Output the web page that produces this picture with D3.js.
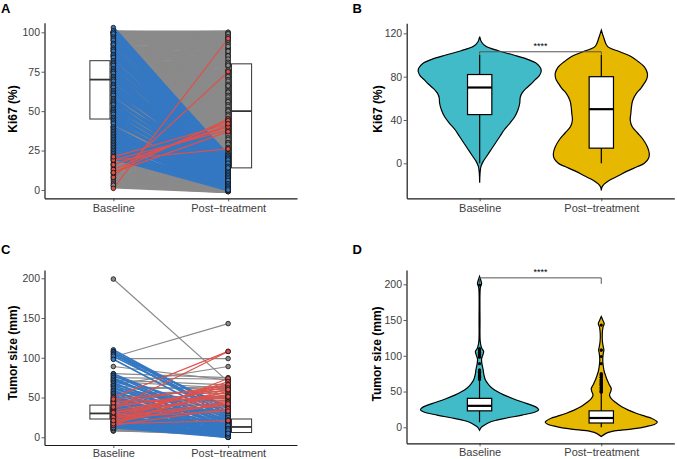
<!DOCTYPE html>
<html>
<head>
<meta charset="utf-8">
<script src="https://cdn.jsdelivr.net/npm/d3@7"></script>
<style>
  body { margin: 0; background: #fff; }
  svg { display: block; font-family: "Liberation Sans", Arial, Helvetica, sans-serif; }
</style>
</head>
<body>
<svg id="chart" width="677" height="459"></svg>
<script>
var groups = ['Baseline', 'Post\u2212treatment'];

// Ki67 (%) per patient, [baseline, post-treatment]
var ki67Stable = [
  [100,100],[99,100],[100,99],[98,98],[97,99],[100,97],[96,96],[95,97],[99,95],[94,94],
  [98,93],[93,92],[92,95],[91,90],[100,90],[90,89],[89,91],[95,88],[88,87],[87,86],
  [86,88],[90,85],[85,84],[84,82],[83,85],[98,83],[82,80],[81,81],[80,79],[92,80],
  [79,78],[78,76],[77,79],[76,75],[100,76],[75,74],[74,72],[73,73],[72,71],[88,72],
  [71,70],[70,68],[69,69],[68,67],[67,65],[85,66],[66,64],[65,66],[64,63],[63,61],
  [62,62],[80,62],[61,60],[60,58],[59,59],[58,57],[57,55],[56,56],[75,56],[55,54],
  [54,52],[53,53],[52,51],[51,49],[50,50],[70,50],[49,48],[48,46],[47,47],[46,45],
  [45,43],[44,44],[65,44],[43,42],[42,40],[41,41],[40,39],[39,37],[38,38],[37,36],
  [60,36],[36,34],[35,35],[34,33],[33,31],[32,32],[31,30],[30,28],[55,30],[29,29],
  [28,27],[27,25],[26,26],[50,26],[25,24],[24,23],[45,23],[23,22],[40,21],
  [22,2],[21,1],[20,2],[19,1],[18,0],[17,2],[16,1],[15,0],[14,1],[13,0],
  [12,2],[11,1],[10,0],[9,1],[8,-1],[7,0],[6,1],[5,-1],[4,0],[3,-1],[2,-1],[3,0]
];
var ki67Decrease = [
  [103,21],[101,22],[100,20],[99,19],[97,22],[96,18],[95,21],[93,17],[92,20],[90,16],
  [89,19],[88,15],[86,18],[85,14],[84,20],[82,13],[81,17],[80,12],[79,16],[77,11],
  [76,15],[75,19],[74,10],[72,14],[71,12],[70,9],[69,17],[67,13],[66,8],[65,11],
  [63,15],[62,7],[61,10],[60,12],[58,6],[57,9],[56,14],[55,5],[54,8],[52,11],
  [51,4],[50,7],[49,10],[48,3],[46,6],[45,9],[44,2],[43,5],[42,8],[40,1],
  [39,4],[38,7],[37,2],[36,5],[35,0],[34,3],[33,6],[32,1],[31,4],[30,0],
  [29,2],[28,3],[27,0],[26,1],[25,2],[24,0],[23,1],[22,0],[21,1],[20,0]
];
var ki67Increase = [
  [1,96],[8,75],[11,45],[16,41],[19,38],[13,44],[19,26],[16,40],[21,42],[11,37]
];

// Tumor size (mm) per patient, [baseline, post-treatment]
var tumorStable = [
  [199,70],[101,143],[99,99],[89,72],[66,89],[75,73],[72,66],[70,62],[64,60],[60,64],
  [57,55],[53,50],[50,52],[47,45],[44,47],[41,40],[38,42],[36,33],[33,35],[31,29],
  [29,31],[27,25],[25,27],[23,21],[21,23],[19,18],[17,19],[15,14],[14,12],[13,15],
  [12,10],[11,8],[10,11],[9,6],[8,9],[8,4],[10,5],[12,3],[9,2],[11,7],
  [13,9],[80,75],[55,58],[45,50],[35,38]
];
var tumorDecrease = [
  [110,32],[108,28],[107,36],[105,25],[104,38],[102,30],[98,22],
  [80,20],[78,15],[77,28],[75,12],[73,18],[71,25],[69,10],[67,22],[65,14],[63,8],
  [61,20],[59,5],[57,16],[55,11],[53,3],[51,7],[49,13],[47,2],[45,9],[43,0],
  [42,6],[40,12],[38,4],[37,1],[35,8],[34,3],[32,10],[30,0],[29,5],[27,2],
  [26,7],[24,1],[23,4],[22,0],[20,3],[19,1],[18,6],[17,2],[16,0],[15,4],
  [14,1],[13,2],[12,0],[46,15],[39,11],[33,6],[28,9],[25,3],[21,5]
];
var tumorIncrease = [
  [36,108],[50,108],[18,74],[22,70],[26,67],[30,64],[16,61],[20,58],[34,56],[28,54],
  [41,52],[45,49],[32,47],[24,45],[43,66],[48,62],[19,44],[27,40],[15,36],[38,60],
  [17,21],[25,33],[31,51],[21,42]
];

// box stats per group: [q1, median, q3, whisker low, whisker high]
var ki67Box = [[45, 70, 82, 0, 100], [14, 50, 80, 0, 100]];
var tumorBox = [[23, 30, 40.5, 7, 66], [6, 13, 23, 0, 48]];

// violin outlines: [value, relative density]
var ki67ViolinBase = [
  [117,0],[112,0.03],[108,0.1],[104,0.3],[100,0.55],[96,0.78],[92,0.93],[88,0.99],[85,1],
  [81,0.97],[77,0.9],[73,0.83],[69,0.75],[65,0.69],[61,0.66],[55,0.65],[49,0.62],[43,0.57],
  [37,0.49],[31,0.4],[25,0.33],[19,0.26],[13,0.19],[7,0.12],[2,0.06],[-3,0.02],[-10,0.005],[-18,0]
];
var ki67ViolinPost = [
  [123,0],[116,0.04],[108,0.1],[103,0.3],[98.5,0.49],[94,0.6],[89,0.7],[83,0.75],[78,0.74],
  [74,0.7],[69,0.64],[64.6,0.57],[58,0.51],[52,0.49],[46,0.48],[40,0.47],[34,0.5],[28,0.59],
  [22,0.68],[15,0.75],[9,0.78],[5,0.77],[0,0.7],[-3,0.59],[-7,0.43],[-12,0.26],[-16,0.12],
  [-19,0.05],[-22,0.01],[-25,0]
];
var tumorViolinBase = [
  [211,0],[206,0.02],[201,0.035],[196,0.015],[188,0.008],[150,0.008],[120,0.012],[111,0.035],
  [106,0.07],[101,0.055],[96,0.035],[89,0.04],[81,0.06],[73,0.075],[66,0.1],[60,0.15],
  [55,0.21],[50,0.3],[45,0.42],[40,0.57],[35,0.74],[31,0.88],[27,0.98],[24,1],[21,0.93],
  [17,0.72],[13,0.46],[10,0.29],[7,0.17],[3,0.08],[0,0.03],[-4,0]
];
var tumorViolinPost = [
  [155,0],[150,0.025],[145,0.05],[140,0.03],[131,0.017],[120,0.02],[112,0.035],[108,0.045],
  [104,0.035],[94,0.025],[85,0.035],[78,0.05],[73,0.07],[66,0.1],[59,0.14],[54,0.17],
  [50,0.16],[45,0.14],[40,0.17],[35,0.24],[29,0.34],[24,0.46],[19.6,0.59],[15,0.76],
  [12.6,0.85],[9,0.93],[7,0.95],[4,0.9],[1,0.76],[-2,0.56],[-4,0.34],[-6,0.17],[-8.5,0.08],[-13,0]
];

var ki67Ticks = [0, 25, 50, 75, 100];
var ki67ViolinTicks = [0, 40, 80, 120];
var tumorTicks = [0, 50, 100, 150, 200];
var sigLabel = '****';

var lineColors = {stable: '#8a8a8a', down: '#3477c2', up: '#e0504a'};
var violinFills = ['#41bbc8', '#e6b800'];
var svg = d3.select('svg#chart');

function styleAxis(g, size) {
  g.select('.domain').attr('stroke', '#1a1a1a').attr('stroke-width', 1.2);
  g.selectAll('.tick line').attr('stroke', '#333').attr('stroke-width', 0.8);
  g.selectAll('.tick text').attr('fill', '#3d3d3d').attr('font-size', size)
    .attr('font-family', '"Liberation Sans", Arial, sans-serif');
}

function drawAxes(p, x, y) {
  var ya = svg.append('g').attr('transform', 'translate(' + p.left + ',0)')
    .call(d3.axisLeft(y).tickValues(p.ticks).tickSize(3).tickPadding(1.5).tickSizeOuter(0));
  styleAxis(ya, '10.5px');
  var xa = svg.append('g').attr('transform', 'translate(0,' + p.bottom + ')')
    .call(d3.axisBottom(x).tickSize(3).tickPadding(p.labelPad).tickSizeOuter(0));
  styleAxis(xa, '11px');

  svg.append('text')
    .attr('transform', 'translate(' + p.titleX + ',' + p.titleY + ') rotate(-90)')
    .attr('text-anchor', 'middle').attr('dy', '0.36em')
    .attr('font-size', '12px').attr('font-weight', 'bold').attr('fill', '#000')
    .text(p.title);
  svg.append('text')
    .attr('x', p.letterX).attr('y', p.letterY)
    .attr('font-size', '13px').attr('font-weight', 'bold').attr('fill', '#000')
    .text(p.letter);
}

function drawPaired(p) {
  var x = d3.scalePoint().domain(groups).range([p.left, p.right]).padding(0.6);
  var y = d3.scaleLinear().domain(p.domain).range([p.bottom, p.top]);
  var step = x.step();
  var g = svg.append('g');

  // side boxes, no whiskers
  p.box.forEach(function(b, i) {
    var side = i === 0 ? -1 : 1;
    var cx = x(groups[i]) + side * step * 0.117;
    var w = step * 0.175;
    g.append('rect').attr('x', cx - w / 2).attr('y', y(b[2]))
      .attr('width', w).attr('height', y(b[0]) - y(b[2]))
      .attr('fill', '#fff').attr('stroke', '#333').attr('stroke-width', 1);
    g.append('line').attr('x1', cx - w / 2).attr('x2', cx + w / 2)
      .attr('y1', y(b[1])).attr('y2', y(b[1]))
      .attr('stroke', '#333').attr('stroke-width', 1.8);
  });

  var sets = [
    [p.stable, lineColors.stable, p.widths[0]],
    [p.down, lineColors.down, p.widths[1]],
    [p.up, lineColors.up, p.widths[2]]
  ];
  sets.forEach(function(s) {
    g.append('g').selectAll('line').data(s[0]).enter().append('line')
      .attr('x1', x(groups[0])).attr('x2', x(groups[1]))
      .attr('y1', function(d) { return y(d[0]); })
      .attr('y2', function(d) { return y(d[1]); })
      .attr('stroke', s[1]).attr('stroke-width', s[2]);
  });
  sets.forEach(function(s) {
    [0, 1].forEach(function(k) {
      g.append('g').selectAll('circle').data(s[0]).enter().append('circle')
        .attr('cx', x(groups[k]))
        .attr('cy', function(d) { return y(d[k]); })
        .attr('r', 2.3)
        .attr('fill', s[1]).attr('stroke', '#111').attr('stroke-width', 0.8);
    });
  });

  drawAxes(p, x, y);
}

function drawViolin(p) {
  var x = d3.scalePoint().domain(groups).range([p.left, p.right]).padding(0.6);
  var y = d3.scaleLinear().domain(p.domain).range([p.bottom, p.top]);
  var step = x.step();
  var wScale = d3.scaleLinear().domain([0, 1]).range([0, p.maxHalf]);
  var g = svg.append('g');

  p.violins.forEach(function(v, i) {
    var cx = x(groups[i]);
    var area = d3.area().curve(d3.curveCatmullRom)
      .y(function(d) { return y(d[0]); })
      .x0(function(d) { return cx - wScale(d[1]); })
      .x1(function(d) { return cx + wScale(d[1]); });
    g.append('path').datum(v).attr('d', area)
      .attr('fill', violinFills[i]).attr('stroke', '#000').attr('stroke-width', 1.2);
  });

  p.box.forEach(function(b, i) {
    var cx = x(groups[i]);
    var w = step * 0.2;
    g.append('line').attr('x1', cx).attr('x2', cx)
      .attr('y1', y(b[3])).attr('y2', y(b[4]))
      .attr('stroke', '#000').attr('stroke-width', 1.2);
    g.append('rect').attr('x', cx - w / 2).attr('y', y(b[2]))
      .attr('width', w).attr('height', y(b[0]) - y(b[2]))
      .attr('fill', '#fff').attr('stroke', '#000').attr('stroke-width', 1.2);
    g.append('line').attr('x1', cx - w / 2).attr('x2', cx + w / 2)
      .attr('y1', y(b[1])).attr('y2', y(b[1]))
      .attr('stroke', '#000').attr('stroke-width', 2.2);

    if (p.pairs) {
      var outliers = [];
      p.pairs.forEach(function(set) {
        set.forEach(function(d) {
          if (d[i] > b[4] || d[i] < b[3]) outliers.push(d[i]);
        });
      });
      g.append('g').selectAll('circle').data(outliers).enter().append('circle')
        .attr('cx', cx).attr('cy', function(d) { return y(d); })
        .attr('r', 1.6).attr('fill', '#000');
    }
  });

  // significance bracket
  var by = y(p.sig);
  var bx0 = x(groups[0]), bx1 = x(groups[1]);
  g.append('path')
    .attr('d', 'M' + bx0 + ',' + (by + p.sigTick) + 'V' + by + 'H' + bx1 + 'V' + (by + p.sigTick))
    .attr('fill', 'none').attr('stroke', '#555').attr('stroke-width', 1);
  g.append('text').attr('x', (bx0 + bx1) / 2).attr('y', by - 2.5)
    .attr('text-anchor', 'middle').attr('font-size', '9px').attr('fill', '#000')
    .text(sigLabel);

  drawAxes(p, x, y);
}

drawPaired({
  left: 44.5, right: 297, top: 22.7, bottom: 198.3, domain: [-5.3, 106.1],
  ticks: ki67Ticks, box: ki67Box, widths: [3.4, 2.6, 1.2], labelPad: 3,
  stable: ki67Stable, down: ki67Decrease, up: ki67Increase,
  title: 'Ki67 (%)', titleX: 13, titleY: 109, letter: 'A', letterX: 1, letterY: 12.5
});

drawViolin({
  left: 406.7, right: 674.3, top: 23.3, bottom: 198.3, domain: [-32.3, 129.3],
  ticks: ki67ViolinTicks, box: ki67Box, maxHalf: 61.5, labelPad: 3,
  violins: [ki67ViolinBase, ki67ViolinPost], sig: 103, sigTick: 3,
  title: 'Ki67 (%)', titleX: 378, titleY: 109, letter: 'B', letterX: 352.5, letterY: 12.5
});

drawPaired({
  left: 44.5, right: 297, top: 270, bottom: 445, domain: [-9.7, 210.4],
  ticks: tumorTicks, box: tumorBox, widths: [1.2, 1.7, 1.2], labelPad: 0.8,
  stable: tumorStable, down: tumorDecrease, up: tumorIncrease,
  title: 'Tumor size (mm)', titleX: 13, titleY: 353, letter: 'C', letterX: 1, letterY: 254
});

drawViolin({
  left: 406.5, right: 674.3, top: 270, bottom: 443.3, domain: [-22.4, 220],
  ticks: tumorTicks, box: tumorBox, maxHalf: 59, labelPad: 2,
  violins: [tumorViolinBase, tumorViolinPost], sig: 209, sigTick: 6,
  pairs: [tumorStable, tumorDecrease, tumorIncrease],
  title: 'Tumor size (mm)', titleX: 377, titleY: 354, letter: 'D', letterX: 352.5, letterY: 254
});
</script>
</body>
</html>
